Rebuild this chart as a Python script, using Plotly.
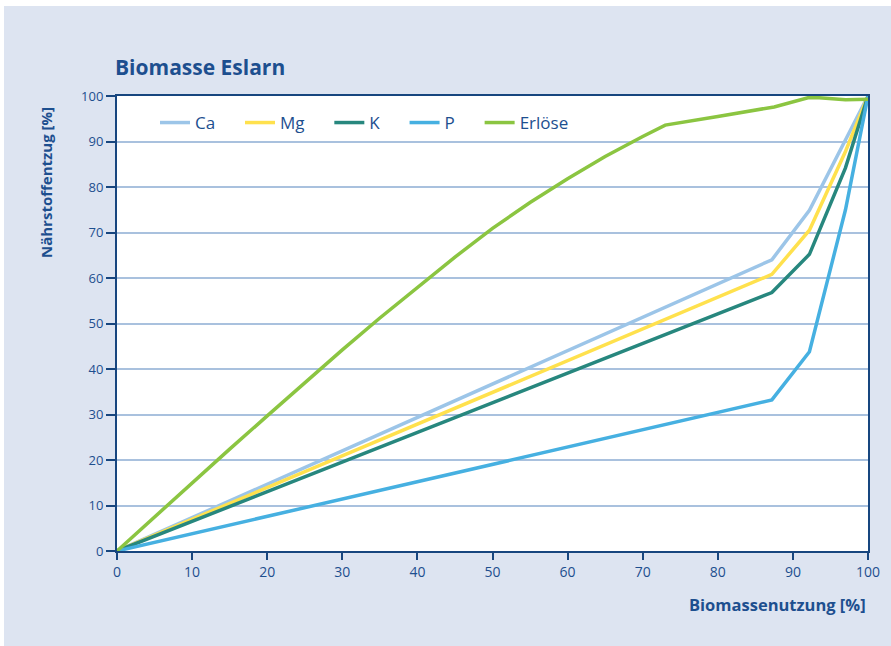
import plotly.graph_objects as go

# ---- data ----
x_naehr = [0, 87.2, 92.2, 97.0, 100]
ca = [0, 64.0, 74.9, 90.4, 100]
mg = [0, 60.8, 70.5, 87.8, 100]
k = [0, 56.8, 65.2, 84.2, 100]
p = [0, 33.2, 43.8, 75.0, 100]

x_erloese = [0, 5, 10, 15, 20, 25, 30, 35, 40, 45, 50, 55, 60, 65, 70, 73,
             80, 87.5, 92.0, 93.5, 97.0, 100]
erloese = [0, 7.5, 15.0, 22.4, 29.7, 37.0, 44.2, 51.2, 58.0, 64.6, 70.9, 76.6,
           81.8, 86.7, 91.1, 93.6, 95.5, 97.6, 99.6, 99.6, 99.2, 99.3]

x_ticks = [0, 10, 20, 30, 40, 50, 60, 70, 80, 90, 100]
y_ticks = [0, 10, 20, 30, 40, 50, 60, 70, 80, 90, 100]

series_names = ["Ca", "Mg", "K", "P", "Erlöse"]
series = [
    (series_names[0], x_naehr, ca, "#9cc5e8"),
    (series_names[1], x_naehr, mg, "#ffe14d"),
    (series_names[2], x_naehr, k, "#27877e"),
    (series_names[3], x_naehr, p, "#46b0e1"),
    (series_names[4], x_erloese, erloese, "#8bc541"),
]

NAVY = "#17467f"
TEXT = "#1d4f8f"
BG = "#dde4f1"
PAD = "\u2002\u2002\u2009"  # visual spacing after each legend entry

fig = go.Figure()
for name, xs, ys, col in series:
    fig.add_trace(go.Scatter(x=xs, y=ys, name=name + PAD, mode="lines",
                             line=dict(color=col, width=3.5)))

# plot area geometry: x 117..868, y 96..551 in an 891x646 page
L, R, T, B = 117, 23, 96, 95
pw = 891 - L - R
ph = 646 - T - B

def px2x(px):
    return (px - L) / pw

def py2y(py):
    return (646 - B - py) / ph

fig.update_layout(
    width=891, height=646,
    margin=dict(l=L, r=R, t=T, b=B),
    paper_bgcolor="white",
    plot_bgcolor="rgba(0,0,0,0)",
    showlegend=True,
    legend=dict(orientation="h", x=px2x(155), y=py2y(105), xanchor="left", yanchor="top",
                bgcolor="rgba(0,0,0,0)", font=dict(family="Open Sans", size=17, color=TEXT)),
    shapes=[
        dict(type="rect", xref="paper", yref="paper", layer="below",
             x0=px2x(4), x1=px2x(891), y0=py2y(646), y1=py2y(6),
             fillcolor=BG, line=dict(width=0)),
        dict(type="rect", xref="paper", yref="paper", layer="below",
             x0=0, x1=1, y0=0, y1=1, fillcolor="white", line=dict(width=0)),
    ],
    annotations=[
        dict(text="<b>Biomasse Eslarn</b>", xref="paper", yref="paper",
             x=px2x(113), y=py2y(67), xanchor="left", yanchor="middle", showarrow=False,
             font=dict(family="Open Sans", size=21, color=TEXT)),
        dict(text="<b>Nährstoffentzug [%]</b>", xref="paper", yref="paper",
             x=px2x(46), y=py2y(183), xanchor="center", yanchor="middle", showarrow=False,
             textangle=-90, font=dict(family="Open Sans", size=15, color=TEXT)),
        dict(text="<b>Biomassenutzung [%]</b>", xref="paper", yref="paper",
             x=1, y=py2y(604), xanchor="right", yanchor="middle", showarrow=False,
             font=dict(family="Open Sans", size=16.5, color=TEXT)),
    ],
)

fig.update_xaxes(range=[0, 100], tickvals=x_ticks, ticktext=[str(v) for v in x_ticks],
                 showgrid=False, zeroline=False, showline=True, linecolor=NAVY, linewidth=2,
                 mirror=True, ticks="outside", ticklen=7, tickwidth=1.5, tickcolor=NAVY,
                 tickfont=dict(family="Open Sans", size=14, color=TEXT), fixedrange=True)
fig.update_yaxes(range=[0, 100], tickvals=y_ticks, ticktext=[str(v) for v in y_ticks],
                 showgrid=True, gridcolor="#a9c1de", gridwidth=1.5, zeroline=False,
                 showline=True, linecolor=NAVY, linewidth=2, mirror=True,
                 ticks="outside", ticklen=9, tickwidth=1.5, tickcolor=NAVY,
                 tickfont=dict(family="Open Sans", size=13, color=TEXT), fixedrange=True)

fig.write_html("out.html")
